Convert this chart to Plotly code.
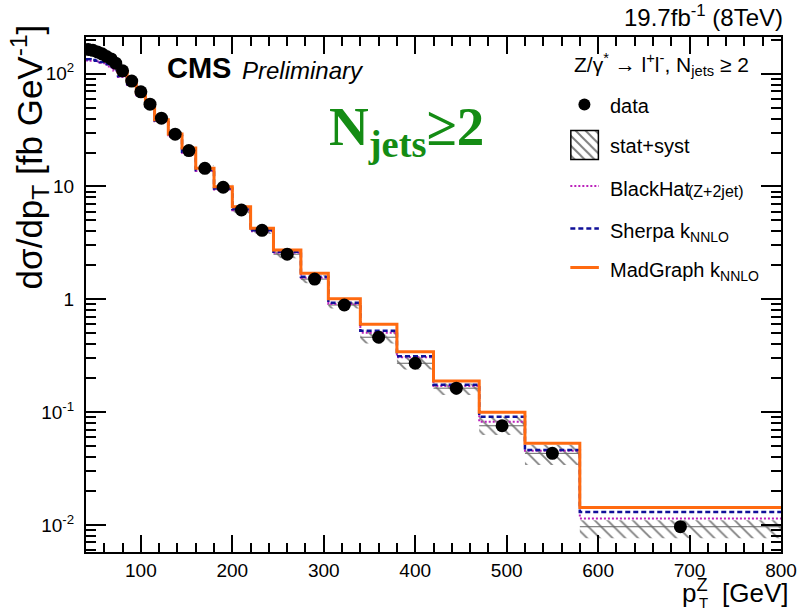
import plotly.graph_objects as go

# Z(->ll) + >=2 jets, differential cross section in Z transverse momentum (8 TeV, 19.7 fb^-1)
pt_edges = [40, 45, 50, 55, 60, 65, 70, 75, 85, 95, 105, 115, 130, 145, 160,
            180, 200, 220, 245, 275, 305, 340, 380, 420, 470, 520, 580, 800]

data_xsec = [164, 161, 156, 150, 142, 135, 124, 106, 86, 69, 53.6, 40.3, 29.1,
             20.8, 14.5, 9.84, 6.19, 4.09, 2.51, 1.51, 0.890, 0.461, 0.271,
             0.163, 0.0757, 0.0431, 0.00964]

# total (stat+syst) uncertainty, percent
unc_up_pct = [5, 5, 5, 5, 5, 5, 5, 5, 5, 5, 5, 5, 5, 5, 6, 6, 7, 7, 8, 8,
              7, 14, 15, 10, 20, 19, 14]
unc_dn_pct = [5, 5, 5, 5, 5, 5, 5, 5, 5, 5, 5, 5, 5, 5, 6, 6, 7, 7, 8, 8,
              7, 12, 12, 13, 17, 21, 21]

blackhat_xsec = [131, 130, 128, 125, 120, 113, 106, 93.5, 79.5, 64.5, 50.5,
                 37.8, 27.5, 19.9, 13.7, 9.4, 6.15, 4.0, 2.58, 1.55, 0.908,
                 0.506, 0.306, 0.170, 0.0822, 0.0455, 0.0114]

sherpa_xsec = [134, 132, 130, 127, 122, 115, 108, 95.4, 81, 66, 51.5, 38.5,
               28.0, 20.3, 14.0, 9.6, 6.3, 4.1, 2.64, 1.585, 0.933, 0.527,
               0.312, 0.175, 0.091, 0.0461, 0.0130]

madgraph_xsec = [165, 162, 157, 151, 143, 135, 125, 104, 85.9, 67.4, 52.3,
                 39.1, 29.2, 21.9, 14.5, 9.96, 6.62, 4.26, 2.74, 1.70, 1.01,
                 0.600, 0.343, 0.189, 0.0996, 0.0529, 0.0143]

y_tick_vals = [0.01, 0.1, 1, 10, 100]
y_tick_text = ["10<sup>-2</sup>", "10<sup>-1</sup>", "1", "10", "10<sup>2</sup>"]

# ---------------------------------------------------------------------------
W, H = 809, 611
L, R, T, B = 86, 792, 37, 552
FONT = "Liberation Sans"

ORANGE = "#ff6a10"
BLUE = "#101099"
MAGENTA = "#bb22bb"


def fx(p):
    return (p - L) / (R - L)


def fy(p):
    return (B - p) / (B - T)


centers = [(a + b) / 2 for a, b in zip(pt_edges[:-1], pt_edges[1:])]
widths = [b - a for a, b in zip(pt_edges[:-1], pt_edges[1:])]
band_lo = [d * (1 - e / 100) for d, e in zip(data_xsec, unc_dn_pct)]
band_hi = [d * (1 + e / 100) for d, e in zip(data_xsec, unc_up_pct)]


def step_y(vals):
    return list(vals) + [vals[-1]]


fig = go.Figure()

# hatched uncertainty band
fig.add_trace(go.Bar(
    x=centers, y=[h - l for h, l in zip(band_hi, band_lo)], base=band_lo,
    width=widths,
    marker=dict(color="rgba(0,0,0,0)", line=dict(width=0),
                pattern=dict(shape="\\", fgcolor="black", bgcolor="rgba(0,0,0,0)",
                             size=9, solidity=0.2, fillmode="overlay")),
    showlegend=False, hoverinfo="skip"))

# central value line of the band
seg_x, seg_y = [], []
for a, b, d in zip(pt_edges[:-1], pt_edges[1:], data_xsec):
    seg_x += [a, b, None]
    seg_y += [d, d, None]
fig.add_trace(go.Scatter(x=seg_x, y=seg_y, mode="lines",
                         line=dict(color="#666666", width=1),
                         showlegend=False, hoverinfo="skip"))

# theory predictions as histograms
fig.add_trace(go.Scatter(x=pt_edges, y=step_y(blackhat_xsec), mode="lines",
                         line=dict(color=MAGENTA, width=2, dash="2px,2px", shape="hv"),
                         showlegend=False))
fig.add_trace(go.Scatter(x=pt_edges, y=step_y(sherpa_xsec), mode="lines",
                         line=dict(color=BLUE, width=2.5, dash="5px,3px", shape="hv"),
                         showlegend=False))
fig.add_trace(go.Scatter(x=pt_edges, y=step_y(madgraph_xsec), mode="lines",
                         line=dict(color=ORANGE, width=3, shape="hv"),
                         showlegend=False))

# measurement
fig.add_trace(go.Scatter(x=centers, y=data_xsec, mode="markers",
                         marker=dict(color="black", size=13, symbol="circle"),
                         showlegend=False))

# ---- legend keys on a pixel-scaled overlay axis ----
fig.add_trace(go.Scatter(x=[592.3], y=[104.5], mode="markers",
                         marker=dict(color="black", size=12),
                         xaxis="x2", yaxis="y2", showlegend=False, hoverinfo="skip"))
fig.add_trace(go.Bar(x=[592.5], y=[29], base=[130.5], width=[28],
                     marker=dict(color="rgba(0,0,0,0)",
                                 line=dict(color="black", width=1.5),
                                 pattern=dict(shape="\\", fgcolor="black",
                                              bgcolor="rgba(0,0,0,0)", size=7,
                                              solidity=0.28, fillmode="overlay")),
                     xaxis="x2", yaxis="y2", showlegend=False, hoverinfo="skip"))
for yy, col, wd, dash in [(186, MAGENTA, 2, "2px,2px"),
                          (228.5, BLUE, 2.5, "5px,3px"),
                          (267.5, ORANGE, 3, "solid")]:
    fig.add_trace(go.Scatter(x=[578, 607], y=[yy, yy], mode="lines",
                             line=dict(color=col, width=wd, dash=dash),
                             xaxis="x2", yaxis="y2", showlegend=False,
                             hoverinfo="skip"))

minor_y = [k * 10 ** e for e in range(-3, 3) for k in range(2, 10)]

axis_common = dict(showline=True, linecolor="black", linewidth=2, mirror="allticks",
                   ticks="inside", tickcolor="black", tickwidth=1.5,
                   showgrid=False, zeroline=False,
                   tickfont=dict(family=FONT, size=19, color="black"))

fig.update_layout(
    width=W, height=H,
    margin=dict(l=L, r=W - R, t=T, b=H - B, pad=0),
    paper_bgcolor="white", plot_bgcolor="white",
    showlegend=False, barmode="overlay",
    xaxis=dict(range=[40, 800], tick0=0, dtick=100, ticklen=17,
               minor=dict(dtick=20, tick0=0, ticks="inside", ticklen=9,
                          tickwidth=1.5, tickcolor="black", showgrid=False),
               **axis_common),
    yaxis=dict(type="log", range=[-2.24, 2.325], tickmode="array",
               tickvals=y_tick_vals, ticktext=y_tick_text, ticklen=20,
               ticklabelstandoff=6,
               minor=dict(tickmode="array", tickvals=minor_y, ticks="inside",
                          ticklen=10, tickwidth=1.5, tickcolor="black",
                          showgrid=False),
               **axis_common),
    xaxis2=dict(range=[L, R], overlaying="x", visible=False, anchor="y2"),
    yaxis2=dict(range=[B, T], overlaying="y", visible=False, anchor="x2"),
)

ann = []


def text(x, y, s, size, xanchor="left", yanchor="middle", family=FONT,
         color="black", angle=0):
    ann.append(dict(x=fx(x), y=fy(y), xref="paper", yref="paper", text=s,
                    showarrow=False, xanchor=xanchor, yanchor=yanchor,
                    textangle=angle,
                    font=dict(family=family, size=size, color=color)))


text(796, 16, "19.7fb<sup>-1</sup> (8TeV)", 24, xanchor="right")
text(166, 68, "<b>CMS</b>", 29)
text(242, 70, "<i>Preliminary</i>", 24)
text(331, 130, "<b>N<sub>jets</sub>≥2</b>", 55, family="Liberation Serif",
     color="#148c14")

text(580, 64, "Z/γ<sup>*</sup> → l<sup>+</sup>l<sup>-</sup>, N<sub>jets</sub> ≥ 2", 21)
text(616, 106, "data", 20)
text(616, 146, "stat+syst", 20)
text(616, 189, "BlackHat", 20)
text(696, 191, "(Z+2jet)", 16)
text(616, 232, "Sherpa k<sub>NNLO</sub>", 20)
text(616, 271, "MadGraph k<sub>NNLO</sub>", 20)

text(29, 22, "dσ/dp<sub>T</sub> [fb GeV<sup>-1</sup>]", 35, xanchor="center",
     yanchor="top", angle=-90)
text(802, 591, "p<sup>Z</sup>  [GeV]", 26, xanchor="right")
text(713, 602, "T", 15, xanchor="center")

fig.update_layout(annotations=ann)

fig.write_html("out.html")
